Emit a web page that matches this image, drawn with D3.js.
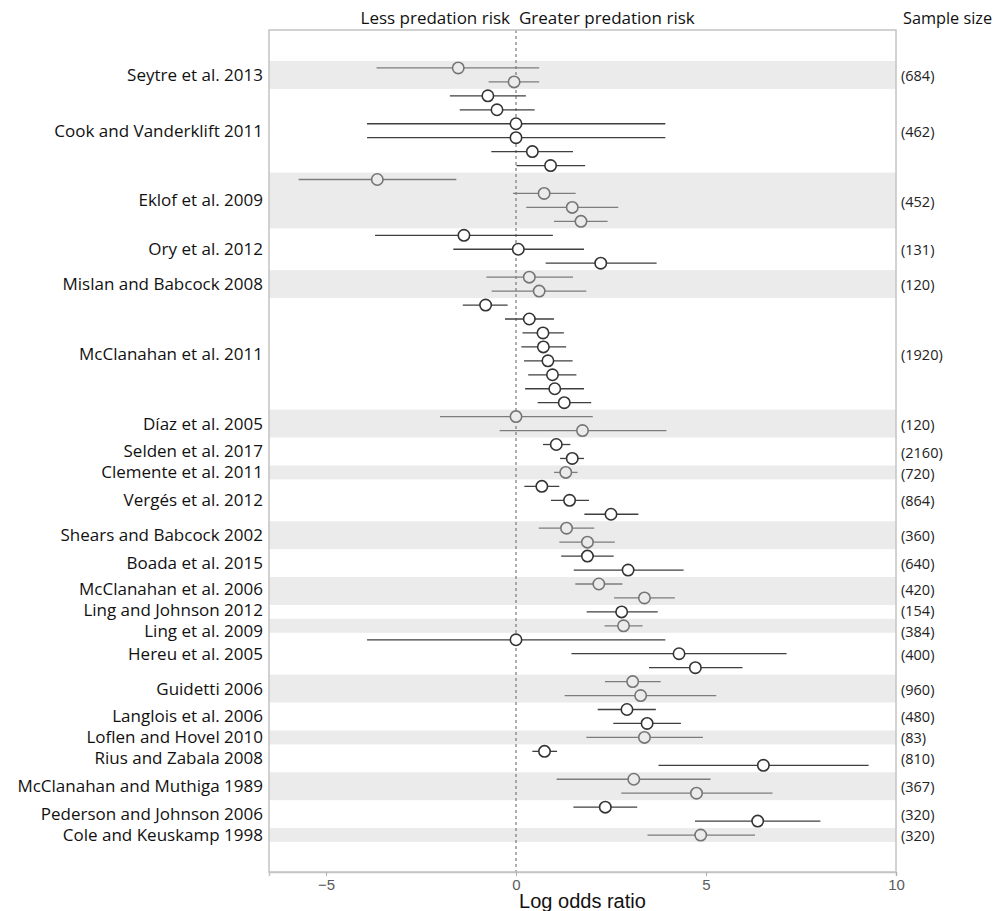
<!DOCTYPE html>
<html>
<head>
<meta charset="utf-8">
<script src="https://cdn.jsdelivr.net/npm/d3@7"></script>
<style>
  html, body { margin: 0; padding: 0; background: #fff; }
  svg { display: block; }
</style>
</head>
<body>
<svg id="chart" width="1000" height="911"></svg>
<script>
// ---------- DATA ----------
const studies = [
  "Seytre et al. 2013", "Cook and Vanderklift 2011", "Eklof et al. 2009", "Ory et al. 2012",
  "Mislan and Babcock 2008", "McClanahan et al. 2011", "Díaz et al. 2005", "Selden et al. 2017",
  "Clemente et al. 2011", "Vergés et al. 2012", "Shears and Babcock 2002", "Boada et al. 2015",
  "McClanahan et al. 2006", "Ling and Johnson 2012", "Ling et al. 2009", "Hereu et al. 2005",
  "Guidetti 2006", "Langlois et al. 2006", "Loflen and Hovel 2010", "Rius and Zabala 2008",
  "McClanahan and Muthiga 1989", "Pederson and Johnson 2006", "Cole and Keuskamp 1998"
];
const effectsPerStudy = [2, 6, 4, 3, 2, 8, 2, 2, 1, 3, 2, 2, 2, 1, 1, 3, 2, 2, 1, 2, 2, 2, 1];
const sampleSizes = ["(684)", "(462)", "(452)", "(131)", "(120)", "(1920)", "(120)", "(2160)",
  "(720)", "(864)", "(360)", "(640)", "(420)", "(154)", "(384)", "(400)", "(960)", "(480)",
  "(83)", "(810)", "(367)", "(320)", "(320)"];

// log odds ratio estimates and 95% CI, one per effect, in study order
const estimate = [
  -1.52, -0.05,
  -0.74, -0.50, 0.00, 0.00, 0.43, 0.91,
  -3.65, 0.74, 1.48, 1.71,
  -1.37, 0.06, 2.23,
  0.35, 0.61,
  -0.80, 0.35, 0.71, 0.72, 0.84, 0.96, 1.02, 1.27,
  0.00, 1.75,
  1.06, 1.48,
  1.31,
  0.68, 1.41, 2.50,
  1.33, 1.88,
  1.88, 2.95,
  2.18, 3.38,
  2.78,
  2.83,
  0.00, 4.29, 4.72,
  3.07, 3.28,
  2.92, 3.45,
  3.38,
  0.75, 6.51,
  3.10, 4.75,
  2.35, 6.36,
  4.86
];
const lower = [
  -3.67, -0.72,
  -1.74, -1.48, -3.92, -3.92, -0.65, 0.01,
  -5.72, -0.08, 0.27, 1.00,
  -3.71, -1.65, 0.78,
  -0.78, -0.64,
  -1.40, -0.29, 0.17, 0.14, 0.21, 0.32, 0.24, 0.57,
  -2.00, -0.43,
  0.71, 1.16,
  1.00,
  0.22, 0.92, 1.80,
  0.60, 1.14,
  1.19, 1.52,
  1.56, 2.58,
  1.86,
  2.33,
  -3.92, 1.46, 3.50,
  2.34, 1.28,
  2.15, 2.56,
  1.85,
  0.43, 3.75,
  1.07, 2.77,
  1.51, 4.71,
  3.46
];
const upper = [
  0.61, 0.61,
  0.26, 0.49, 3.93, 3.93, 1.50, 1.82,
  -1.57, 1.57, 2.69, 2.41,
  0.97, 1.79, 3.70,
  1.50, 1.85,
  -0.22, 1.00, 1.26, 1.32, 1.49, 1.59, 1.79, 1.98,
  2.02, 3.96,
  1.43, 1.79,
  1.62,
  1.14, 1.92, 3.22,
  2.06, 2.60,
  2.57, 4.41,
  2.80, 4.18,
  3.73,
  3.33,
  3.93, 7.12, 5.96,
  3.81, 5.27,
  3.68, 4.34,
  4.92,
  1.08, 9.28,
  5.12, 6.75,
  3.19, 8.01,
  6.29
];
const xTicks = [-5, 0, 5, 10];
const xDomain = [-6.5, 10];

// ---------- BUILD ----------
const rows = [];
const groups = [];
let r = 0;
studies.forEach((s, gi) => {
  const start = r;
  for (let k = 0; k < effectsPerStudy[gi]; k++) {
    rows.push({ row: r, group: gi, est: estimate[r], lo: lower[r], hi: upper[r] });
    r++;
  }
  groups.push({ name: s, n: sampleSizes[gi], start: start, end: r - 1, shaded: gi % 2 === 0 });
});

const svg = d3.select("#chart");
const pLeft = 269, pRight = 896, pTop = 30, pBottom = 872;

const x = d3.scaleLinear().domain(xDomain).range([pLeft, pRight]);
const y = d3.scaleLinear().domain([-2.72, 57.65]).range([pTop, pBottom]);

// label positions: centre of each study's rows, relaxed apart to keep a minimal gap
const minGap = 21;
groups.forEach(g => { g.ly = y((g.start + g.end) / 2); });
for (let it = 0; it < 200; it++) {
  let moved = false;
  for (let i = 1; i < groups.length; i++) {
    const gap = groups[i].ly - groups[i - 1].ly;
    if (gap < minGap - 0.01) {
      const d = (minGap - gap) / 2;
      groups[i - 1].ly -= d;
      groups[i].ly += d;
      moved = true;
    }
  }
  if (!moved) break;
}

const labelFont = "'Open Sans', 'Noto Sans', sans-serif";

// bands
svg.append("g").selectAll("rect").data(groups.filter(g => g.shaded)).join("rect")
  .attr("x", pLeft).attr("width", pRight - pLeft)
  .attr("y", g => y(g.start - 0.5))
  .attr("height", g => y(g.end + 0.5) - y(g.start - 0.5))
  .attr("fill", "#ebebeb");

// zero line
svg.append("line")
  .attr("x1", x(0)).attr("x2", x(0)).attr("y1", pTop).attr("y2", pBottom)
  .attr("stroke", "#7a7a7a").attr("stroke-width", 1.2).attr("stroke-dasharray", "3,3");

// panel border
svg.append("rect")
  .attr("x", pLeft).attr("y", pTop).attr("width", pRight - pLeft).attr("height", pBottom - pTop)
  .attr("fill", "none").attr("stroke", "#c4c4c4").attr("stroke-width", 1.5);

// x axis
const axis = svg.append("g").attr("transform", `translate(0,${pBottom})`)
  .call(d3.axisBottom(x).tickValues(xTicks).tickSize(4).tickPadding(3).tickFormat(d3.format("d")));
axis.select(".domain").attr("stroke", "#c4c4c4").attr("stroke-width", 1.5);
axis.selectAll(".tick line").attr("stroke", "#b0b0b0");
axis.selectAll(".tick text")
  .attr("fill", "#5a5a5a").attr("font-size", 15)
  .attr("font-family", "'Liberation Sans', Arial, sans-serif");

// CI lines and points
const colorFor = d => groups[d.group].shaded ? "#757575" : "#333";
const lineColorFor = d => groups[d.group].shaded ? "#7d7d7d" : "#3f3f3f";
svg.append("g").selectAll("line").data(rows).join("line")
  .attr("x1", d => x(d.lo)).attr("x2", d => x(d.hi))
  .attr("y1", d => y(d.row)).attr("y2", d => y(d.row))
  .attr("stroke", lineColorFor).attr("stroke-width", 1.3);
svg.append("g").selectAll("circle").data(rows).join("circle")
  .attr("cx", d => x(d.est)).attr("cy", d => y(d.row)).attr("r", 5.7)
  .attr("fill", d => groups[d.group].shaded ? "#ebebeb" : "#fff")
  .attr("stroke", colorFor).attr("stroke-width", 1.6);

// study labels
svg.append("g").selectAll("text").data(groups).join("text")
  .attr("x", 263).attr("y", g => g.ly)
  .attr("dy", "0.35em").attr("text-anchor", "end")
  .attr("font-family", labelFont).attr("font-size", 17).attr("fill", "#111")
  .text(g => g.name);

// sample sizes
svg.append("g").selectAll("text").data(groups).join("text")
  .attr("x", 901).attr("y", g => g.ly + 1)
  .attr("dy", "0.35em").attr("text-anchor", "start")
  .attr("font-family", labelFont).attr("font-size", 14.5).attr("fill", "#222")
  .text(g => g.n);

// header texts
svg.append("text").attr("x", x(0) - 6).attr("y", 24).attr("text-anchor", "end")
  .attr("font-family", labelFont).attr("font-size", 17).attr("fill", "#111")
  .text("Less predation risk");
svg.append("text").attr("x", x(0) + 3).attr("y", 24).attr("text-anchor", "start")
  .attr("font-family", labelFont).attr("font-size", 17).attr("fill", "#111")
  .text("Greater predation risk");
svg.append("text").attr("x", 903).attr("y", 24).attr("text-anchor", "start")
  .attr("font-family", labelFont).attr("font-size", 16.3).attr("fill", "#111")
  .text("Sample size");

// axis title
svg.append("text").attr("x", (pLeft + pRight) / 2).attr("y", 908).attr("text-anchor", "middle")
  .attr("font-family", "'Liberation Sans', Arial, sans-serif").attr("font-size", 20).attr("fill", "#111")
  .text("Log odds ratio");
</script>
</body>
</html>
